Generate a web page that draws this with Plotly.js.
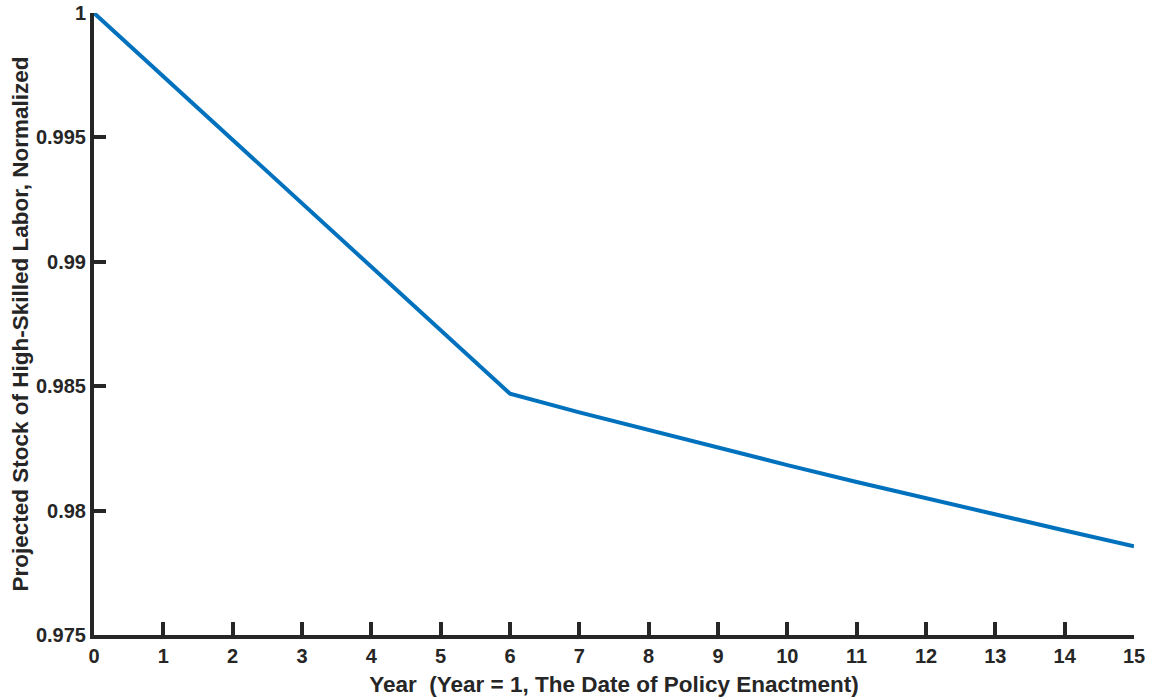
<!DOCTYPE html>
<html>
<head>
<meta charset="utf-8">
<script src="https://cdn.plot.ly/plotly-3.0.1.min.js"></script>
<style>html,body{margin:0;padding:0;background:#fff;}#chart{width:1149px;height:700px;}</style>
</head>
<body>
<div id="chart"></div>
<script>
const years = [0, 1, 2, 3, 4, 5, 6, 7, 8, 9, 10, 11, 12, 13, 14, 15];
const laborStock = [1.0, 0.99745, 0.9949, 0.99235, 0.9898, 0.98725, 0.9847,
  0.98395, 0.98323, 0.98253, 0.98183, 0.98115, 0.98049, 0.97984, 0.9792, 0.97857];
const xTickVals = [0, 1, 2, 3, 4, 5, 6, 7, 8, 9, 10, 11, 12, 13, 14, 15];
const yTickVals = [0.975, 0.98, 0.985, 0.99, 0.995, 1];
const yTickText = ['0.975', '0.98', '0.985', '0.99', '0.995', '1'];
const xTitle = 'Year  (Year = 1, The Date of Policy Enactment)';
const yTitle = 'Projected Stock of High-Skilled Labor, Normalized';

const ink = '#262626';
const fontFam = '"Liberation Sans", Arial, Helvetica, sans-serif';
const tickFont = {family: fontFam, size: 20, color: ink, weight: 'bold'};
const titleFont = {family: fontFam, size: 22.5, color: ink, weight: 'bold'};

const trace = {
  x: years, y: laborStock, type: 'scatter', mode: 'lines',
  line: {color: '#0072BD', width: 4}, hoverinfo: 'skip', showlegend: false
};

const layout = {
  width: 1149, height: 700,
  margin: {l: 94, r: 15, t: 13, b: 65},
  paper_bgcolor: '#fff', plot_bgcolor: '#fff',
  font: {family: fontFam, color: ink, size: 20, weight: 'bold'},
  xaxis: {
    range: [0, 15], tickvals: xTickVals, ticks: 'inside', ticklen: 13, tickwidth: 4, tickcolor: ink,
    showline: true, linewidth: 4, linecolor: ink, showgrid: false, zeroline: false,
    tickfont: tickFont,
    title: {text: xTitle, font: titleFont, standoff: 11}
  },
  yaxis: {
    range: [0.975, 1], tickvals: yTickVals, ticktext: yTickText, ticks: 'inside', ticklen: 12, tickwidth: 4, tickcolor: ink,
    showline: true, linewidth: 4, linecolor: ink, showgrid: false, zeroline: false,
    tickfont: tickFont,
    title: {text: yTitle, font: titleFont, standoff: 2}
  }
};

Plotly.newPlot('chart', [trace], layout, {displayModeBar: false, staticPlot: true});
</script>
</body>
</html>
